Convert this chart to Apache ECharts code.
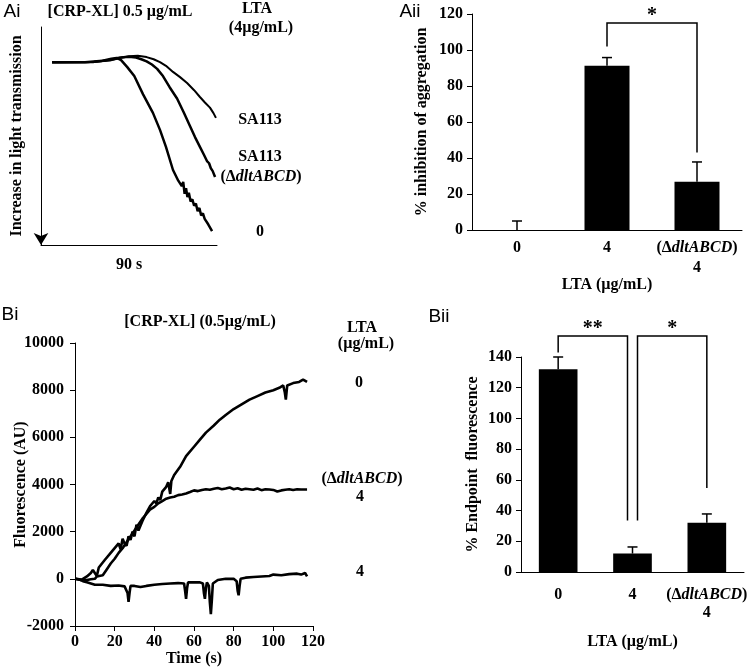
<!DOCTYPE html>
<html>
<head>
<meta charset="utf-8">
<script src="https://cdn.jsdelivr.net/npm/echarts@6/dist/echarts.min.js"></script>
<style>html,body{margin:0;padding:0;background:#fff;}#c{width:750px;height:671px;}</style>
</head>
<body>
<div id="c"></div>
<script>
// ---------- DATA ----------
// Panel Ai: aggregation traces (x: time units 0-100 over the 90 s trace, y: increase in light transmission, arbitrary units)
const aiCurveSA113 = [[6.3,16.2],[30,16.1],[40,15.2],[45,14.2],[50,13.4],[55,13.2],[60,13.8],[64,14.8],[67.6,16.1],[71,17.8],[75,20.6],[79,23.0],[83,25.7],[87,29.0],[90.3,32.1],[93,34.5],[96,37.0],[98,39.5],[99.4,41.7]];
const aiCurveDlt = [[6.3,16.2],[30,16.0],[40,15.0],[45,14.0],[50,13.6],[54,14.0],[57,14.8],[60,15.8],[63,17.2],[66,19.2],[69.3,22.5],[73,27.5],[77.3,32.8],[81,39.0],[84.7,45.5],[87.5,50.5],[90.3,55.0],[92.5,58.5],[94.3,61.5],[95.5,62.5],[96.5,64.8],[97.5,66.0],[98.9,68.8]];
const aiCurve0 = [[6.3,16.2],[25,16.2],[35,15.5],[40,14.6],[43,14.2],[45.5,15.2],[48.9,18.3],[53,22.5],[58,30.9],[63.6,39.4],[67.6,47.2],[71,55],[75,65.6],[78,70.5],[80,73],[80.8,71],[81.6,76.5],[82.4,74],[83.2,78],[84,76],[85,80],[86,79],[87,82],[88,81],[89,84.5],[90,83],[91,86.5],[92,85.5],[93,88],[94,87.5],[95,90.5],[96,90],[97.2,93.6]];

// Panel Aii: % inhibition of aggregation
const aiiCategories = ['0', '4', '(ΔdltABCD)\n4'];
const aiiValues = [0, 91.3, 26.8];
const aiiErrors = [5, 4.5, 11];
const aiiBrackets = [[1, 2, 115, 102, 43]];   // [fromCat, toCat, top, leftBottom, rightBottom]
const aiiBracketLabels = ['*'];

// Panel Bi: fluorescence traces [time (s), AU]
const biCurve0 = [[0,0],[3,-50],[6,100],[8,250],[9,380],[10,250],[11,120],[12,480],[15,800],[18,1100],[20,1300],[22,1500],[23,1250],[24,1700],[25,1500],[26,1400],[27,1800],[28,1650],[29,2000],[30,1800],[31,2300],[32,2050],[34,2450],[36,2800],[38,3100],[40,3300],[41,3200],[42,3450],[43,3350],[44,3700],[46,3900],[47,4100],[48,3600],[48.6,4150],[50,4400],[53,4750],[56,5200],[60,5600],[63,5900],[66,6200],[70,6500],[73,6750],[76,6950],[80,7200],[84,7400],[88,7600],[92,7750],[96,7900],[100,8000],[103,8100],[105,8200],[105.8,7900],[106.3,7600],[107,8200],[110,8300],[113,8350],[115,8450],[117,8350]];
const biCurveDlt = [[0,0],[3,-30],[6,-50],[8,-20],[10,0],[11,100],[12,50],[14,150],[16,400],[18,650],[20,850],[22,1100],[24,1300],[26,1550],[28,1800],[30,2050],[32,2300],[34,2550],[36,2750],[38,2950],[40,3050],[42,3200],[44,3300],[46,3400],[48,3450],[50,3480],[52,3550],[54,3580],[56,3620],[58,3680],[60,3750],[62,3720],[64,3770],[66,3800],[68,3780],[70,3820],[72,3850],[74,3800],[76,3830],[78,3870],[80,3800],[82,3840],[84,3780],[86,3820],[88,3800],[90,3780],[92,3830],[94,3760],[96,3800],[98,3790],[100,3770],[102,3700],[104,3750],[106,3780],[108,3800],[110,3770],[112,3800],[114,3790],[117,3790]];
const biCurve4 = [[0,0],[2,-20],[4,-100],[6,-150],[8,-200],[10,-250],[14,-250],[18,-300],[22,-280],[25,-320],[26,-250],[26.5,-600],[27,-980],[27.5,-600],[28,-300],[30,-300],[33,-350],[36,-300],[40,-250],[44,-220],[48,-200],[52,-180],[55,-200],[55.5,-500],[56,-850],[56.5,-400],[57,-150],[60,-150],[63,-150],[64.5,-200],[65,-600],[65.5,-850],[66,-400],[66.5,-150],[67.5,-300],[68,-1000],[68.5,-1500],[69,-900],[69.5,-200],[72,-50],[76,0],[80,0],[81.5,-100],[82,-500],[82.5,-700],[83,-300],[83.5,0],[86,50],[90,80],[94,100],[98,120],[100,180],[104,150],[108,200],[112,220],[114,180],[116,250],[117,100]];

// Panel Bii: % endpoint fluorescence
const biiCategories = ['0', '4', '(ΔdltABCD)\n4'];
const biiValues = [132, 12, 32];
const biiErrors = [8, 4.3, 5.8];
const biiBrackets = [[0, 1, 153.6, 143, 33.5], [1, 2, 153.6, 33.5, 54.7]];
const biiBracketLabels = ['**', '*'];

// ---------- STYLE ----------
const SERIF = '"Liberation Serif", "Times New Roman", serif';
const SANS = '"Liberation Sans", Arial, sans-serif';
const biiBracketOffsets = [[0, -5], [5, 0]];
const aiiBracketOffsets = [[0, 0]];

const tickLabel = {color: '#000', fontFamily: SERIF, fontWeight: 'bold', fontSize: 16, formatter: function (v) { return String(v); }};
const nameStyle = {color: '#000', fontFamily: SERIF, fontWeight: 'bold', fontSize: 16};
const axLine = {show: true, onZero: false, lineStyle: {color: '#000', width: 1}};

function catFormatter(v) {
  return v.split('\n').map(function (line) {
    const m = line.match(/^(.*?)(dltABCD)(.*)$/);
    if (m) return '{n|' + m[1] + '}{i|' + m[2] + '}{n|' + m[3] + '}';
    return '{n|' + line + '}';
  }).join('\n');
}
function richCat(lh) {
  return {
    n: {fontFamily: SERIF, fontWeight: 'bold', fontSize: 16, color: '#000', lineHeight: lh},
    i: {fontFamily: SERIF, fontWeight: 'bold', fontStyle: 'italic', fontSize: 16, color: '#000', lineHeight: lh}
  };
}

function errorRender(params, api) {
  const x = api.value(0), v = api.value(1), e = api.value(2);
  const p0 = api.coord([x, v]);
  const p1 = api.coord([x, v + e]);
  const st = {stroke: '#000', lineWidth: 1.5};
  return {type: 'group', children: [
    {type: 'line', shape: {x1: p0[0], y1: p0[1], x2: p1[0], y2: p1[1]}, style: st},
    {type: 'line', shape: {x1: p1[0] - 5, y1: p1[1], x2: p1[0] + 5, y2: p1[1]}, style: st}
  ]};
}
function bracketRender(labels, offsets) {
  return function (params, api) {
    const i = params.dataIndex;
    const a = api.value(0), b = api.value(1), top = api.value(2), lb = api.value(3), rb = api.value(4);
    const pT = api.coord([a, top]);
    const pT2 = api.coord([b, top]);
    const yL = api.coord([a, lb])[1];
    const yR = api.coord([b, rb])[1];
    const xL = pT[0] + offsets[i][0];
    const xR = pT2[0] + offsets[i][1];
    return {type: 'group', children: [
      {type: 'polyline', shape: {points: [[xL, yL], [xL, pT[1]], [xR, pT[1]], [xR, yR]]}, style: {stroke: '#000', lineWidth: 1.5, fill: null}},
      {type: 'text', style: {text: labels[i], x: (xL + xR) / 2, y: pT[1] - 7, align: 'center', verticalAlign: 'middle', font: 'bold 20px ' + SERIF, fill: '#000'}}
    ]};
  };
}

function T(text, x, y, extra) {
  return {type: 'text', silent: true, style: Object.assign({text: text, x: x, y: y, align: 'center', verticalAlign: 'middle', font: 'bold 16px ' + SERIF, fill: '#000'}, extra || {})};
}
const dltRich = {
  n: {fontFamily: SERIF, fontWeight: 'bold', fontSize: 16, fill: '#000'},
  i: {fontFamily: SERIF, fontWeight: 'bold', fontStyle: 'italic', fontSize: 16, fill: '#000'}
};
function dltLabel(x, y) {
  return {type: 'text', silent: true, style: {text: '{n|(Δ}{i|dltABCD}{n|)}', rich: dltRich, x: x, y: y, align: 'center', verticalAlign: 'middle', font: 'bold 16px ' + SERIF, fill: '#000'}};
}

const chart = echarts.init(document.getElementById('c'), null, {renderer: 'canvas'});
const option = {
  animation: false,
  backgroundColor: '#fff',
  grid: [
    {left: 41, top: 27, width: 176, height: 218, outerBoundsMode: 'none'},
    {left: 472, top: 14, width: 270, height: 216, outerBoundsMode: 'none'},
    {left: 75, top: 343, width: 238, height: 283, outerBoundsMode: 'none'},
    {left: 521, top: 357, width: 223, height: 215, outerBoundsMode: 'none'}
  ],
  xAxis: [
    {gridIndex: 0, type: 'value', min: 0, max: 100, axisLine: axLine, axisTick: {show: false}, axisLabel: {show: false}, splitLine: {show: false},
      name: '90 s', nameLocation: 'middle', nameGap: 12, nameTextStyle: nameStyle},
    {gridIndex: 1, type: 'category', data: aiiCategories, axisLine: axLine, axisTick: {show: false},
      axisLabel: {formatter: catFormatter, rich: richCat(20), margin: 8, interval: 0},
      name: 'LTA (µg/mL)', nameLocation: 'middle', nameGap: 44, nameTextStyle: nameStyle},
    {gridIndex: 2, type: 'value', min: 0, max: 120, interval: 20, axisLine: axLine,
      axisTick: {show: true, inside: false, length: 5, lineStyle: {color: '#000'}},
      axisLabel: Object.assign({margin: 8}, tickLabel), splitLine: {show: false},
      name: 'Time (s)', nameLocation: 'middle', nameGap: 22, nameTextStyle: nameStyle},
    {gridIndex: 3, type: 'category', data: biiCategories, axisLine: axLine, axisTick: {show: false},
      axisLabel: {formatter: catFormatter, rich: richCat(18), margin: 14, interval: 0},
      name: 'LTA (µg/mL)', nameLocation: 'middle', nameGap: 62, nameTextStyle: nameStyle}
  ],
  yAxis: [
    {gridIndex: 0, type: 'value', inverse: true, min: 0, max: 100,
      axisLine: {show: true, onZero: false, symbol: ['arrow', 'none'], symbolSize: [11, 12], lineStyle: {color: '#000', width: 1}},
      axisTick: {show: false}, axisLabel: {show: false}, splitLine: {show: false},
      name: 'Increase in light transmission', nameLocation: 'middle', nameRotate: 90, nameGap: 16, nameTextStyle: nameStyle},
    {gridIndex: 1, type: 'value', min: 0, max: 120, interval: 20, axisLine: axLine,
      axisTick: {show: true, length: 5, lineStyle: {color: '#000'}},
      axisLabel: Object.assign({margin: 9}, tickLabel), splitLine: {show: false},
      name: '% inhibition of aggregation', nameLocation: 'middle', nameRotate: 90, nameGap: 42, nameTextStyle: nameStyle},
    {gridIndex: 2, type: 'value', min: -2000, max: 10000, interval: 2000, axisLine: axLine,
      axisTick: {show: true, length: 5, lineStyle: {color: '#000'}},
      axisLabel: Object.assign({margin: 11}, tickLabel), splitLine: {show: false},
      name: 'Fluorescence (AU)', nameLocation: 'middle', nameRotate: 90, nameGap: 46, nameMoveOverlap: false, nameTextStyle: nameStyle},
    {gridIndex: 3, type: 'value', min: 0, max: 140, interval: 20, axisLine: axLine,
      axisTick: {show: true, length: 5, lineStyle: {color: '#000'}},
      axisLabel: Object.assign({margin: 9}, tickLabel), splitLine: {show: false},
      name: '% Endpoint  fluorescence', nameLocation: 'middle', nameRotate: 90, nameGap: 40, nameTextStyle: nameStyle}
  ],
  series: [
    {type: 'line', xAxisIndex: 0, yAxisIndex: 0, data: aiCurveSA113, showSymbol: false, lineStyle: {color: '#000', width: 2}},
    {type: 'line', xAxisIndex: 0, yAxisIndex: 0, data: aiCurveDlt, showSymbol: false, lineStyle: {color: '#000', width: 2.5}},
    {type: 'line', xAxisIndex: 0, yAxisIndex: 0, data: aiCurve0, showSymbol: false, lineStyle: {color: '#000', width: 2.5}},

    {type: 'bar', xAxisIndex: 1, yAxisIndex: 1, data: aiiValues, barWidth: '50%', itemStyle: {color: '#000'}},
    {type: 'custom', xAxisIndex: 1, yAxisIndex: 1, renderItem: errorRender, clip: false,
      data: aiiValues.map(function (v, i) { return [i, v, aiiErrors[i]]; }), encode: {x: 0, y: [1, 2]}, z: 3},
    {type: 'custom', xAxisIndex: 1, yAxisIndex: 1, renderItem: bracketRender(aiiBracketLabels, aiiBracketOffsets), clip: false,
      data: aiiBrackets, encode: {x: [0, 1], y: [2, 3, 4]}, z: 3},

    {type: 'line', xAxisIndex: 2, yAxisIndex: 2, data: biCurve0, showSymbol: false, lineStyle: {color: '#000', width: 2.6}},
    {type: 'line', xAxisIndex: 2, yAxisIndex: 2, data: biCurveDlt, showSymbol: false, lineStyle: {color: '#000', width: 2.6}},
    {type: 'line', xAxisIndex: 2, yAxisIndex: 2, data: biCurve4, showSymbol: false, lineStyle: {color: '#000', width: 2.6}},

    {type: 'bar', xAxisIndex: 3, yAxisIndex: 3, data: biiValues, barWidth: '52%', itemStyle: {color: '#000'}},
    {type: 'custom', xAxisIndex: 3, yAxisIndex: 3, renderItem: errorRender, clip: false,
      data: biiValues.map(function (v, i) { return [i, v, biiErrors[i]]; }), encode: {x: 0, y: [1, 2]}, z: 3},
    {type: 'custom', xAxisIndex: 3, yAxisIndex: 3, renderItem: bracketRender(biiBracketLabels, biiBracketOffsets), clip: false,
      data: biiBrackets, encode: {x: [0, 1], y: [2, 3, 4]}, z: 3}
  ],
  graphic: [
    T('Ai', 12, 12, {font: '19px ' + SANS}),
    T('Aii', 410, 12, {font: '19px ' + SANS}),
    T('Bi', 10, 315, {font: '19px ' + SANS}),
    T('Bii', 439, 317, {font: '19px ' + SANS}),
    T('[CRP-XL] 0.5 µg/mL', 120, 12),
    T('LTA', 257, 9),
    T('(4µg/mL)', 261, 28),
    T('SA113', 260, 120),
    T('SA113', 260, 157),
    dltLabel(261, 177),
    T('0', 260, 232),
    T('[CRP-XL] (0.5µg/mL)', 200, 322),
    T('LTA', 362, 328),
    T('(µg/mL)', 366, 344),
    T('0', 359, 383),
    dltLabel(362, 479),
    T('4', 360, 497),
    T('4', 360, 572)
  ]
};
chart.setOption(option);
</script>
</body>
</html>
